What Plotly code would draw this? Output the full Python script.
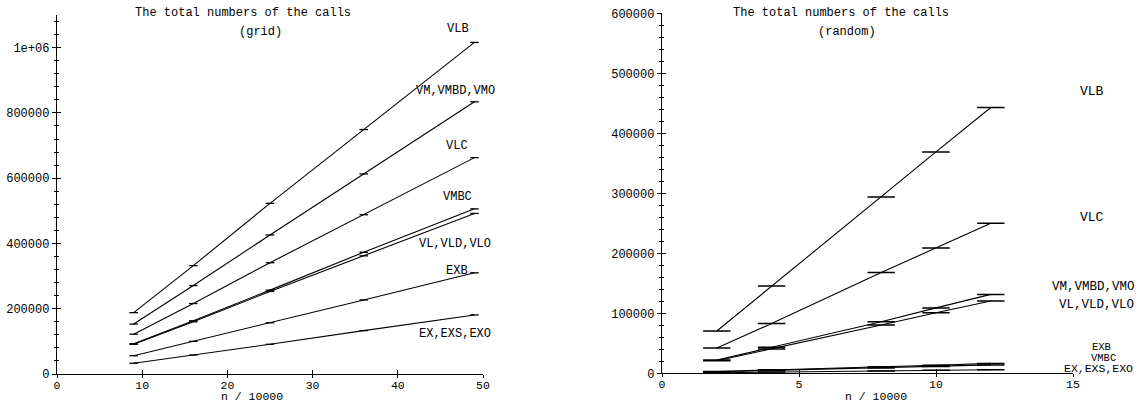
import plotly.graph_objects as go

W, H = 1139, 403

# ---------------- data ----------------
grid_n = [9, 16, 25, 36, 49]
grid_VLB = [188000, 332000, 523000, 749000, 1016000]
grid_VM = [153000, 271000, 426000, 613000, 834000]
grid_VLC = [122000, 216000, 341000, 488000, 663000]
grid_VMBC = [93000, 163000, 257000, 373000, 506000]
grid_VL = [91000, 160000, 253000, 362000, 492000]
grid_EXB = [56000, 100000, 157000, 227000, 310000]
grid_EX = [33000, 58000, 91000, 133000, 181000]

rand_n = [2, 4, 8, 10, 12]
rand_VLB = [70500, 145500, 294000, 369000, 443000]
rand_VLC = [42000, 83000, 168000, 209000, 250000]
rand_VM = [22000, 43500, 86000, 109000, 131500]
rand_VL = [21000, 40500, 80500, 101000, 120500]
rand_EXB = [3000, 6000, 11000, 13500, 16500]
rand_VMBC = [2500, 5000, 9000, 11500, 14000]
rand_EX = [1000, 2000, 4000, 5000, 6000]

grid_xerr = 0.5
rand_xerr = 0.5

left_xticks = [0, 10, 20, 30, 40, 50]
right_xticks = [0, 5, 10, 15]
left_yticks = [0, 200000, 400000, 600000, 800000, 1000000]
left_yticktext = ["0", "200000", "400000", "600000", "800000", "1e+06"]
right_yticks = [0, 100000, 200000, 300000, 400000, 500000, 600000]
right_yticktext = ["0", "100000", "200000", "300000", "400000", "500000", "600000"]

FONT = "Liberation Mono, Courier New, monospace"
FS = 12

def px(x):
    return x / W

def py(y):
    return 1 - y / H

fig = go.Figure()

grid_series = [grid_VLB, grid_VM, grid_VLC, grid_VMBC, grid_VL, grid_EXB, grid_EX]
for s in grid_series:
    fig.add_trace(go.Scatter(
        x=grid_n, y=s, mode="lines", xaxis="x", yaxis="y",
        line=dict(color="black", width=1.1),
        error_x=dict(type="constant", value=grid_xerr, color="black", thickness=1.3, width=0),
        showlegend=False, hoverinfo="skip"))

rand_series = [rand_VLB, rand_VLC, rand_VM, rand_VL, rand_EXB, rand_VMBC, rand_EX]
for s in rand_series:
    fig.add_trace(go.Scatter(
        x=rand_n, y=s, mode="lines", xaxis="x2", yaxis="y2",
        line=dict(color="black", width=1.1),
        error_x=dict(type="constant", value=rand_xerr, color="black", thickness=1.5, width=0),
        showlegend=False, hoverinfo="skip"))

# dummy traces for overlay tick axes (second half of crossing ticks)
for xa, ya in [("x3", "y"), ("x", "y3"), ("x4", "y2"), ("x2", "y4")]:
    fig.add_trace(go.Scatter(x=[None], y=[None], xaxis=xa, yaxis=ya, mode="lines",
                             showlegend=False, hoverinfo="skip"))

LX = [px(57), px(483)]
LY = [py(374), py(15)]
RX = [px(662), px(1073)]
RY = [py(373.3), py(13.3)]

tickfont = dict(family=FONT, size=FS, color="black")
xtickfont = dict(family=FONT, size=11.5, color="black")

common_x = dict(showgrid=False, zeroline=False, showline=True, linecolor="black", linewidth=1,
                ticks="inside", ticklen=4, tickcolor="black", tickwidth=1, tickfont=xtickfont,
                automargin=False)
common_y = dict(showgrid=False, zeroline=False, showline=True, linecolor="black", linewidth=1.3,
                ticks="outside", ticklen=4, tickcolor="black", tickwidth=1, tickfont=tickfont,
                automargin=False)
overlay = dict(showticklabels=False, showline=False, showgrid=False, zeroline=False,
               automargin=False, tickcolor="black")

fig.update_layout(
    width=W, height=H,
    margin=dict(l=0, r=0, t=0, b=0, autoexpand=False),
    paper_bgcolor="white", plot_bgcolor="white",
    xaxis=dict(domain=LX, anchor="y", range=[0, 50], tickvals=left_xticks, **common_x),
    yaxis=dict(domain=LY, anchor="x", range=[0, 1100000], tickvals=left_yticks,
               ticktext=left_yticktext,
               minor=dict(dtick=40000, ticks="outside", ticklen=2, tickcolor="black"),
               **common_y),
    xaxis2=dict(domain=RX, anchor="y2", range=[0, 15], tickvals=right_xticks, **common_x),
    yaxis2=dict(domain=RY, anchor="x2", range=[0, 600000], tickvals=right_yticks,
                ticktext=right_yticktext,
                minor=dict(dtick=20000, ticks="outside", ticklen=2, tickcolor="black"),
                **common_y),
    # overlay axes providing the other half of crossing tick marks
    xaxis3=dict(overlaying="x", anchor="y", range=[0, 50], tickvals=left_xticks,
                ticks="outside", ticklen=3, **overlay),
    yaxis3=dict(overlaying="y", anchor="x", side="left", range=[0, 1100000], tickvals=left_yticks,
                ticks="inside", ticklen=4,
                minor=dict(dtick=40000, ticks="inside", ticklen=2, tickcolor="black"),
                **overlay),
    xaxis4=dict(overlaying="x2", anchor="y2", range=[0, 15], tickvals=right_xticks,
                ticks="outside", ticklen=3, **overlay),
    yaxis4=dict(overlaying="y2", anchor="x2", side="left", range=[0, 600000], tickvals=right_yticks,
                ticks="inside", ticklen=4,
                minor=dict(dtick=20000, ticks="inside", ticklen=2, tickcolor="black"),
                **overlay),
)

def ann(text, x, y, xanchor="center", size=FS):
    fig.add_annotation(text=text, x=px(x), y=py(y), xref="paper", yref="paper",
                       xanchor=xanchor, yanchor="middle", showarrow=False, borderpad=0,
                       font=dict(family=FONT, size=size, color="black"))

# titles
ann("The total numbers of the calls", 243, 13)
ann("(grid)", 260, 32)
ann("The total numbers of the calls", 841, 13)
ann("(random)", 847, 32)
ann("n / 10000", 252, 396.5, size=11.5)
ann("n / 10000", 876, 396, size=11.5)

# left labels
ann("VLB", 458, 29)
ann("VM,VMBD,VMO", 455, 91)
ann("VLC", 457, 146)
ann("VMBC", 457, 197)
ann("VL,VLD,VLO", 455, 244)
ann("EXB", 457, 271)
ann("EX,EXS,EXO", 455, 334)

# right labels
ann("VLB", 1092, 91, size=13)
ann("VLC", 1092, 217, size=13)
ann("VM,VMBD,VMO", 1051, 287, xanchor="left", size=12.5)
ann("VL,VLD,VLO", 1096, 305, size=12.5)
ann("EXB", 1101, 347, size=10.5)
ann("VMBC", 1103, 357.5, size=10.5)
ann("EX,EXS,EXO", 1098, 368, size=11.5)

fig.write_html("out.html")
